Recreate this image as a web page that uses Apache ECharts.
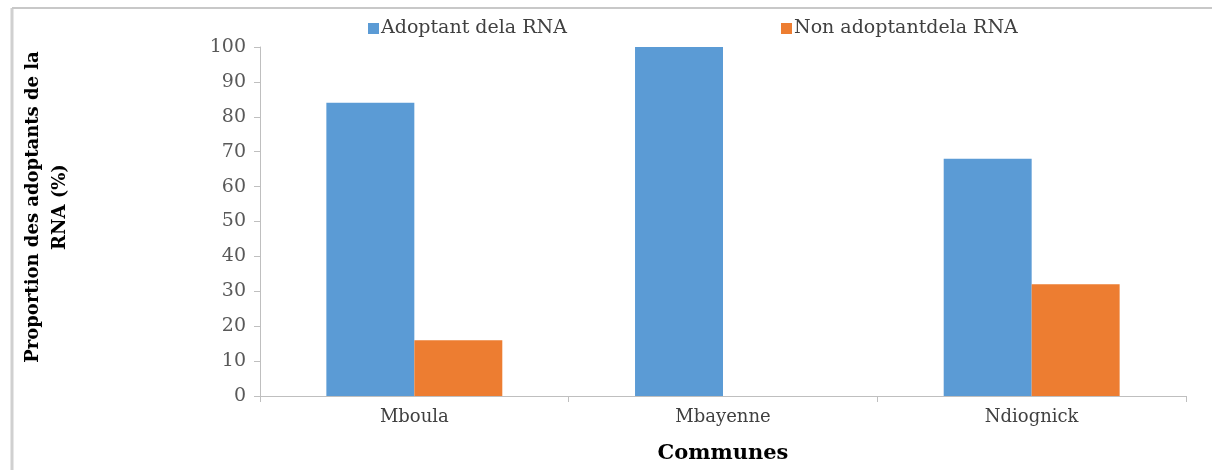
<!DOCTYPE html>
<html>
<head>
<meta charset="utf-8">
<script src="https://cdn.jsdelivr.net/npm/echarts@6/dist/echarts.min.js"></script>
<style>html,body{margin:0;padding:0;background:#fff;overflow:hidden}#c{width:1212px;height:470px}</style>
</head>
<body>
<div id="c"></div>
<script>
const categories = ['Mboula', 'Mbayenne', 'Ndiognick'];
const adoptants = [84, 100, 68];
const nonAdoptants = [16, 0, 32];
const yTicks = [0, 10, 20, 30, 40, 50, 60, 70, 80, 90, 100];
const seriesNames = ['Adoptant dela RNA', 'Non adoptantdela RNA'];

const FONT = '"DejaVu Serif", "Liberation Serif", serif';
const chart = echarts.init(document.getElementById('c'), null, {renderer: 'canvas'});
chart.setOption({
  animation: false,
  backgroundColor: '#fff',
  textStyle: {fontFamily: FONT},
  grid: {left: 260, right: 26, top: 47, bottom: 74, containLabel: false, outerBoundsMode: 'none'},
  legend: [
    {data: [seriesNames[0]], left: 363, top: 14, itemWidth: 11, itemHeight: 11, icon: 'rect', itemGap: 4,
     textStyle: {fontFamily: FONT, fontSize: 19, color: '#404040', padding: [0, 0, 0, -3]}},
    {data: [seriesNames[1]], left: 776, top: 14, itemWidth: 11, itemHeight: 11, icon: 'rect', itemGap: 4,
     textStyle: {fontFamily: FONT, fontSize: 19, color: '#404040', padding: [0, 0, 0, -3]}}
  ],
  xAxis: {
    type: 'category',
    data: categories,
    axisLine: {lineStyle: {color: '#bfbfbf', width: 1}},
    axisTick: {show: true, alignWithLabel: false, length: 6, lineStyle: {color: '#bfbfbf'}},
    axisLabel: {fontFamily: FONT, fontSize: 18, color: '#404040', margin: 12},
    name: 'Communes',
    nameLocation: 'middle',
    nameGap: 47,
    nameTextStyle: {fontFamily: FONT, fontSize: 21, fontWeight: 'bold', color: '#000'}
  },
  yAxis: {
    type: 'value',
    min: 0, max: 100, interval: 10,
    splitLine: {show: false},
    axisLine: {show: true, lineStyle: {color: '#bfbfbf'}},
    axisTick: {show: true, length: 6, lineStyle: {color: '#bfbfbf'}},
    axisLabel: {fontFamily: FONT, fontSize: 19, color: '#595959', margin: 14,
      formatter: v => yTicks.includes(v) ? String(v) : ''}
  },
  series: [
    {name: seriesNames[0], type: 'bar', data: adoptants, barGap: '0%', barCategoryGap: '43%',
     itemStyle: {color: '#5b9bd5'}},
    {name: seriesNames[1], type: 'bar', data: nonAdoptants, barGap: '0%', barCategoryGap: '43%',
     itemStyle: {color: '#ed7d31'}}
  ],
  graphic: [
    {type: 'line', shape: {x1: 12, y1: 8, x2: 12, y2: 470}, silent: true,
     style: {stroke: '#d0d0d0', lineWidth: 3}},
    {type: 'line', shape: {x1: 12, y1: 8, x2: 1212, y2: 8}, silent: true,
     style: {stroke: '#c8c8c8', lineWidth: 2}},
    {type: 'text', x: 33, y: 207, rotation: Math.PI / 2, silent: true,
     style: {text: 'Proportion des adoptants de la', fontFamily: FONT, fontSize: 18, fontWeight: 'bold',
             fill: '#000', align: 'center', verticalAlign: 'middle'}},
    {type: 'text', x: 60, y: 207, rotation: Math.PI / 2, silent: true,
     style: {text: 'RNA (%)', fontFamily: FONT, fontSize: 18, fontWeight: 'bold',
             fill: '#000', align: 'center', verticalAlign: 'middle'}}
  ]
});
</script>
</body>
</html>
